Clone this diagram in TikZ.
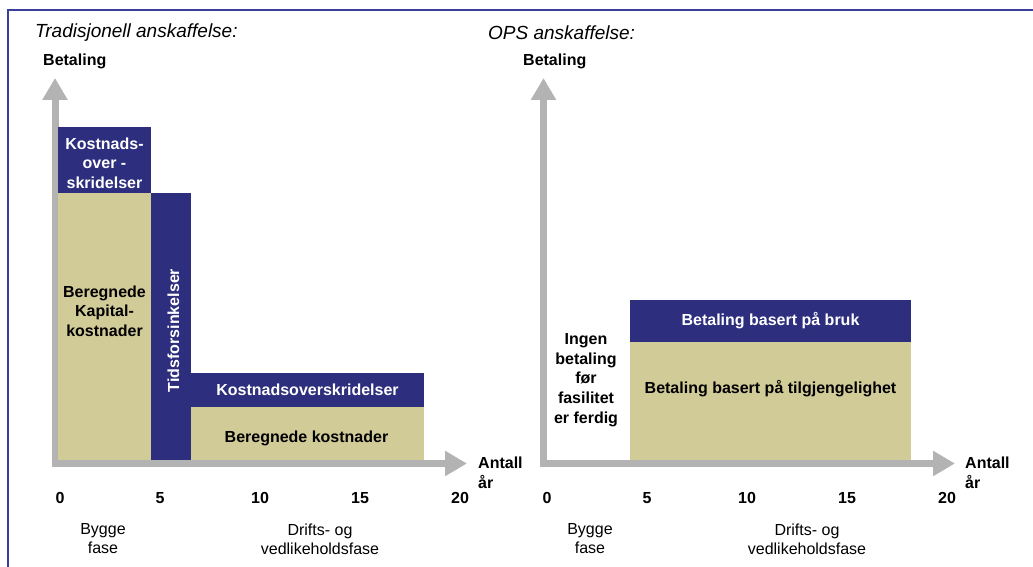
\documentclass[tikz,border=0pt]{standalone}
\usepackage{fontspec}
\setmainfont{Liberation Sans}
\usetikzlibrary{arrows.meta}

\definecolor{navy}{HTML}{2E2E7E}
\definecolor{sand}{HTML}{D1CB98}
\definecolor{axisgray}{HTML}{B3B3B3}
\definecolor{framecol}{HTML}{3A3F9C}

\begin{document}
\begin{tikzpicture}[x=1pt,y=-1pt,
    axis/.style={draw=axisgray,line width=7pt,line join=miter,
      {Triangle[width=24pt,length=22pt]}-{Triangle[width=24pt,length=22pt]}},
    navybox/.style={fill=navy,inner sep=0pt,outer sep=0pt,anchor=north west},
    sandbox/.style={fill=sand,inner sep=0pt,outer sep=0pt,anchor=north west},
    boldtext/.style={font=\bfseries\fontsize{16}{19.7}\selectfont,align=center,inner sep=0pt},
    plaintext/.style={font=\fontsize{16}{19}\selectfont,align=center,inner sep=0pt},
    title/.style={font=\itshape\fontsize{19}{22}\selectfont,anchor=west,inner sep=0pt}]
  \useasboundingbox (0,0) rectangle (1033,567);

  % frame
  \coordinate (frameBL) at (8,567);
  \coordinate (frameTL) at (8,10.5);
  \coordinate (frameTR) at (1033,10.5);
  \draw[framecol,line width=2pt] (frameBL) -- (frameTL) -- (frameTR);

  % traditional procurement
  \coordinate (tradY) at (55,78);
  \coordinate (tradO) at (55,463.5);
  \coordinate (tradX) at (467,463.5);
  \draw[axis] (tradY) -- (tradO) -- (tradX);

  \node[title] (tradTitle) at (35,33) {Tradisjonell anskaffelse:};
  \node[boldtext,anchor=west] (tradPay) at (43,61) {Betaling};

  \node[navybox,minimum width=93pt,minimum height=66pt] (tradOver) at (58,127) {};
  \node[boldtext,text=white] (tradOverTxt) at (104.5,163) {Kostnads-\\over -\\skridelser};
  \node[sandbox,minimum width=93pt,minimum height=267pt] (tradCap) at (58,193) {};
  \node[boldtext] (tradCapTxt) at (104.5,311) {Beregnede\\Kapital-\\kostnader};
  \node[navybox,minimum width=40pt,minimum height=267pt] (tradDelay) at (151,193) {};
  \node[boldtext,text=white,rotate=90] (tradDelayTxt) at (173.5,330.5) {Tidsforsinkelser};
  \node[navybox,minimum width=233pt,minimum height=34pt] (tradRun) at (191,373) {};
  \node[boldtext,text=white] (tradRunTxt) at (307.5,390) {Kostnadsoverskridelser};
  \node[sandbox,minimum width=233pt,minimum height=53pt] (tradEst) at (191,407) {};
  \node[boldtext] (tradEstTxt) at (306.5,438) {Beregnede kostnader};

  \foreach \t in {0,5,...,20} {
    \node[boldtext] (tradTick\t) at (60+20*\t,498) {\t};
  }
  \node[boldtext,anchor=west,align=left] (tradYears) at (478,473) {Antall\\år};
  \node[plaintext] (tradBuild) at (103,539) {Bygge\\fase};
  \node[plaintext] (tradOps) at (320,539) {Drifts- og\\vedlikeholdsfase};

  % OPS procurement
  \coordinate (opsY) at (543.5,78);
  \coordinate (opsO) at (543.5,463.5);
  \coordinate (opsX) at (955,463.5);
  \draw[axis] (opsY) -- (opsO) -- (opsX);

  \node[title] (opsTitle) at (488,33) {OPS anskaffelse:};
  \node[boldtext,anchor=west] (opsPay) at (523,61) {Betaling};

  \node[navybox,minimum width=281pt,minimum height=42pt] (opsUse) at (630,300) {};
  \node[boldtext,text=white] (opsUseTxt) at (770.5,321) {Betaling basert på bruk};
  \node[sandbox,minimum width=281pt,minimum height=118pt] (opsAvail) at (630,342) {};
  \node[boldtext] (opsAvailTxt) at (770.5,389) {Betaling basert på tilgjengelighet};
  \node[boldtext] (opsNone) at (586,380) {Ingen\\betaling\\før\\fasilitet\\er ferdig};

  \foreach \t in {0,5,...,20} {
    \node[boldtext] (opsTick\t) at (547+20*\t,498) {\t};
  }
  \node[boldtext,anchor=west,align=left] (opsYears) at (965,473) {Antall\\år};
  \node[plaintext] (opsBuild) at (590,539) {Bygge\\fase};
  \node[plaintext] (opsOps) at (807,539) {Drifts- og\\vedlikeholdsfase};
\end{tikzpicture}
\end{document}
